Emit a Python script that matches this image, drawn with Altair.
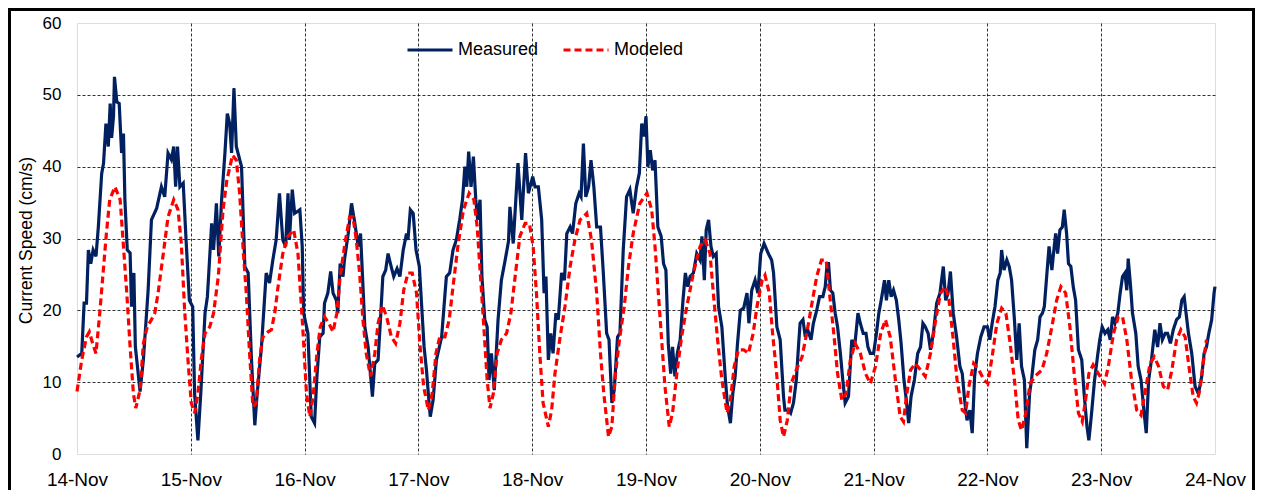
import altair as alt
import pandas as pd

# ---- data (hours after 14-Nov 00:00, current speed in cm/s) ----
day_labels = ["14-Nov", "15-Nov", "16-Nov", "17-Nov", "18-Nov", "19-Nov",
              "20-Nov", "21-Nov", "22-Nov", "23-Nov", "24-Nov"]

measured_hours = [
    0, 1, 1.5, 2.0, 2.4, 2.9, 3.4, 4.0, 4.5, 5.2, 5.6, 6.1, 6.6, 7.0, 7.3, 7.7, 7.9, 8.4, 8.9, 9.4,
    9.8, 10.1, 10.6, 11.2, 11.5, 12.0, 12.3, 13.3, 14.0, 15.0, 15.7, 16.8, 17.8, 18.5, 19.2, 19.9,
    20.4, 20.8, 21.2, 21.7, 22.4, 23.0, 23.7, 24.4, 24.8, 25.5, 26.1, 27.0, 27.5, 28.4, 28.8, 29.4,
    29.9, 30.5, 31.2, 31.7, 32.2, 32.6, 33.1, 33.6, 34.7, 35.4, 36.1, 36.8, 37.5, 38.0, 38.9, 39.9,
    40.6, 41.3, 42.0, 42.7, 43.4, 44.0, 44.5, 44.8, 45.4, 45.9, 47.0, 47.5, 47.8, 48.7, 49.4, 50.1,
    50.6, 51.2, 51.9, 52.2, 52.9, 53.5, 54.0, 54.7, 55.0, 55.5, 56.1, 56.4, 57.2, 57.9, 58.6, 59.3,
    59.8, 60.7, 61.4, 62.3, 62.8, 63.5, 64.0, 64.5, 65.1, 65.6, 66.1, 66.8, 67.5, 68.1, 68.8, 69.5,
    69.8, 70.3, 70.9, 71.5, 72.2, 72.7, 73.2, 73.7, 74.2, 74.5, 75.1, 75.8, 76.9, 77.9, 78.6, 79.3,
    80.0, 80.7, 81.3, 81.8, 82.2, 82.6, 83.1, 83.6, 84.1, 84.5, 85.0, 85.4, 86.0, 86.5, 86.9, 87.4,
    88.0, 88.8, 89.5, 90.3, 91.0, 91.3, 92.0, 93.0, 93.8, 94.6, 95.2, 96.1, 96.6, 97.3, 98.0, 98.5,
    98.9, 99.4, 99.9, 100.4, 101.0, 101.5, 102.2, 102.8, 103.3, 104.0, 104.5, 105.2, 105.9, 106.3,
    106.8, 107.3, 107.9, 108.4, 109.0, 109.6, 110.4, 111.0, 111.7, 112.2, 112.8, 113.3, 114.0,
    114.5, 115.2, 115.9, 116.6, 117.3, 118.0, 118.6, 119.1, 119.6, 120.0, 120.4, 120.9, 121.4,
    121.9, 122.5, 123.2, 123.7, 124.2, 124.7, 125.2, 125.6, 126.1, 126.6, 127.2, 127.8, 128.3,
    128.8, 129.3, 130.0, 130.7, 131.4, 131.8, 132.3, 132.7, 133.2, 133.7, 134.2, 134.8, 135.3,
    136.0, 136.7, 137.2, 137.8, 138.3, 138.8, 139.3, 139.9, 140.6, 141.3, 141.7, 142.3, 143.0,
    143.6, 144.2, 144.9, 145.8, 146.5, 146.9, 147.6, 148.3, 149.0, 149.3, 150.0, 150.5, 151.1,
    151.7, 152.2, 152.5, 153.1, 153.6, 154.1, 154.8, 155.3, 156.0, 156.6, 157.3, 157.8, 158.2,
    158.5, 158.9, 159.4, 159.9, 160.4, 161.0, 161.5, 162.0, 162.7, 163.4, 164.0, 164.7, 165.2,
    165.8, 166.4, 166.8, 167.3, 168.0, 168.6, 169.1, 169.6, 170.3, 170.7, 171.2, 171.7, 172.2,
    172.8, 173.3, 173.8, 174.4, 174.9, 175.4, 175.9, 176.6, 177.3, 177.9, 178.4, 178.9, 179.5,
    180.0, 180.6, 181.3, 182.0, 182.7, 183.2, 183.7, 184.2, 184.8, 185.5, 186.2, 186.7, 187.2,
    187.7, 188.3, 188.8, 189.3, 189.9, 190.6, 191.3, 192.0, 192.5, 193.0, 193.6, 194.2, 194.7,
    195.0, 195.5, 196.1, 196.6, 197.1, 197.7, 198.2, 198.7, 199.2, 199.8, 200.3, 200.9, 201.3,
    202.0, 202.6, 203.1, 203.6, 204.0, 204.5, 205.0, 205.6, 206.1, 206.4, 206.8, 207.3, 207.8,
    208.2, 208.7, 209.1, 209.6, 210.1, 210.6, 211.2, 211.9, 212.4, 213.0, 213.4, 213.9, 214.6,
    215.3, 215.7, 216.2, 216.8, 217.4, 217.9, 218.4, 218.9, 219.5, 220.0, 220.5, 221.0, 221.4,
    221.7, 222.2, 222.6, 223.3, 223.8, 224.4, 225.0, 225.5, 226.0, 226.6, 227.3, 227.9, 228.4,
    228.9, 229.5, 230.0, 230.6, 231.2, 231.9, 232.5, 233.0, 233.5, 233.9, 234.4, 235.1, 235.8,
    236.5, 237.2, 237.7, 238.2, 238.7, 239.3, 239.8, 240.0,
]
measured_values = [
    13.5, 14, 21, 21, 28.4, 26.5, 28.4, 27.5, 31.6, 39, 40.5, 46, 42.8, 48.8, 44, 47, 52.5, 49, 48.8, 41.9,
    44.6, 35.4, 28.4, 28, 20.5, 25.2, 15, 8.7, 13.1, 22.8, 32.6, 34.2, 37.2, 35.8, 41.9, 41,
    42.8, 37.2, 42.8, 37.2, 37.7, 29.8, 21.4, 20.5, 8.4, 1.9, 8.4, 19.6, 21.9, 32.1, 28.4, 34.9,
    27.5, 35.4, 41.9, 47.4, 46, 41.9, 50.9, 42.8, 40, 26.1, 25.2, 13.1, 4, 8.4, 14.9, 25.2,
    23.8, 27, 29.8, 36.3, 29.8, 28.9, 36.3, 29.8, 36.8, 33.5, 34, 28.9, 19.6, 16.8, 5.2, 4.3,
    10.8, 16.3, 16.8, 21, 22.4, 25.4, 22.4, 21.4, 19.6, 26.5, 24.7, 27, 30.7, 34.9, 32.1, 28.9,
    30.7, 17.7, 14.9, 8, 12.6, 13.1, 18.7, 24.7, 25.6, 27.9, 26.5, 24.7, 25.8, 24.7, 28.4, 30.7,
    29.8, 34, 33.5, 28.4, 26.1, 20.5, 14.9, 11.7, 7.5, 5.2, 7.5, 13.1, 16.3, 24.7, 25.2, 28.4,
    29.8, 32.6, 35.4, 40, 37.2, 42.1, 37.2, 41.4, 35.4, 32.6, 35.4, 24.7, 18.7, 17.7, 10.3, 14,
    8.9, 18.7, 24.2, 27, 29.6, 34.4, 29.3, 40.5, 32.6, 41.9, 36.3, 38.6, 37.2, 37.2, 32.6, 22.4,
    24.7, 13.1, 16.8, 14, 19.6, 18.7, 25.2, 24.2, 30.7, 31.6, 30.7, 34.9, 36.3, 35.8,
    43.2, 35.8, 37.2, 40.9, 37.2, 31.6, 31.6, 25.2, 16.8, 15.9, 7.1, 8.9, 16.3,
    16.8, 28.4, 35.8, 36.8, 33.5, 37.2, 39.1, 46, 44.2, 47, 40, 42.3, 39.5,
    40.9, 31.6, 30.3, 26.5, 25.6, 15.4, 11.2, 14.9, 10.8, 14, 15.9, 21.4, 25.2,
    23.3, 24.7, 25.2, 27.9, 27, 30.3, 24.2, 31.2, 32.6, 28.9, 27.5, 27.9, 20.5,
    17.7, 10.8, 6.6, 4.3, 8.4, 10.8, 15.4, 20, 20.3, 22.4, 18.2, 22.8, 24.2,
    22.4, 27.9, 29.3, 27.9, 27, 25.2, 17.7, 15.9, 8, 6.1, 6.1, 5.7, 7.1,
    10.3, 15.4, 18.2, 18.7, 16.3, 17.3, 15.9, 18.2, 20, 21.9, 21.9, 23.3, 26.5,
    26.5, 22.8, 22.4, 19.6, 17.7, 14, 10.3, 7.1, 8, 15.9, 14.9, 19.6, 18.2,
    16.8, 16.8, 14.9, 14, 14, 16.8, 19.6, 21.4, 24.2, 21.4, 24.2, 21.9, 22.8,
    21.4, 18.7, 15.4, 10.3, 7.5, 4.3, 8, 10.3, 14, 14.9, 18.2, 17.7, 16.8,
    14.5, 16.8, 21, 22.4, 26.1, 21.4, 22.4, 25.4, 19.6, 16.3, 12.2, 11.2, 7.5,
    4.7, 6.1, 2.9, 10.8, 14, 16.3, 17.7, 17.7, 15.9, 18.2, 20.5, 24.2, 25.2,
    28.4, 25.6, 27, 26.1, 24.2, 18.7, 13.1, 18.2, 12.2, 10.3, 0.8, 8.4, 10.3,
    14.5, 15.9, 19.1, 19.6, 20.5, 24.7, 28.9, 25.6, 28.9, 30.7, 27.9, 31.2, 31.6,
    34, 30.7, 26.5, 26.1, 23.3, 21.4, 14.5, 13.1, 8.4, 3.8, 1.9, 5.2, 10.3,
    14, 15.9, 17.7, 16.8, 17.3, 15.9, 19.1, 18.2, 19.6, 22.4, 24.7, 25.2, 22.8,
    27.2, 23.3, 19.6, 16.8, 12.2, 10.3, 6.1, 2.9, 10.3, 13.1, 17.3, 14.9, 18.2,
    15.9, 16.8, 16.8, 15.4, 17.3, 18.7, 19.1, 21.4, 21.9, 19.6, 16.8, 14, 9.4,
    8.4, 10.8, 14, 14.9, 16.8, 18.7, 22.4, 23.3,
]

modeled_hours = [
    0, 1, 2, 2.6, 3.3, 4, 4.8, 5.5, 6.2, 6.9, 8, 9.1, 9.8, 10.5, 11.2, 11.9, 12.4, 13.3, 14, 14.8,
    15.7, 16.4, 17.1, 18.2, 19.2, 20.4, 21.3, 22, 22.7, 23.4, 24.1, 24.8, 25.5, 26.2, 27, 28, 28.8,
    29.8, 30.8, 31.6, 32.8, 33.6, 34.3, 35, 35.7, 36.4, 37.1, 37.8, 38.5, 39.2, 40.3, 41, 41.7,
    42.4, 43.4, 44.5, 45.7, 46.6, 47.6, 48.4, 49.1, 49.8, 50.6, 51.3, 52.2, 53.1, 54, 54.8, 55.5,
    56.5, 57.5, 58.2, 58.9, 59.6, 60.3, 61, 61.9, 62.8, 63.5, 64.4, 65.3, 66.3, 67.2, 68.1, 68.9,
    69.8, 70.7, 71.6, 72.3, 73.1, 74.1, 74.9, 75.7, 76.5, 77.6, 78.5, 79.3, 80.4, 81.5, 82.7, 83.7,
    84.4, 85.1, 85.8, 86.5, 87.1, 87.8, 88.6, 89.5, 90.6, 91.5, 92.4, 93.4, 94.5, 95.4, 96.2, 96.9,
    97.6, 98.3, 99.4, 100.1, 100.8, 101.8, 102.9, 104, 105, 106.1, 107.5, 108.5, 109.6, 110.4,
    111.1, 112.1, 112.8, 113.5, 114.4, 115.4, 116.3, 117.3, 118.7, 120.2, 121.2, 121.9, 122.6,
    123.3, 124, 124.9, 125.6, 126.5, 127.5, 128.6, 130, 131.4, 132.5, 133.5, 134.2, 135.1, 136,
    137.1, 137.8, 138.6, 139.5, 140.6, 141.6, 142.6, 143.4, 144.5, 145.1, 146, 146.7, 147.6,
    148.3, 149, 149.8, 150.6, 151.7, 152.9, 153.9, 155, 156, 157, 158, 158.7, 159.6, 160.4,
    161.3, 162.2, 163.1, 164.1, 165.2, 166.3, 167.3, 168.4, 169.5, 170.5, 171.5, 172.6, 173.6,
    174.3, 175, 175.8, 176.8, 177.9, 178.9, 180, 181.1, 182.1, 183.2, 183.9, 184.8, 185.6,
    186.7, 187.4, 188.1, 189.1, 190.2, 191.3, 192.1, 193.1, 194, 195, 195.9, 196.8, 197.7,
    198.5, 199.2, 200.1, 201, 202, 203.5, 204.5, 205.6, 206.6, 207.5, 208.5, 209.4, 210.3,
    211.2, 212, 212.7, 213.4, 214.3, 215.4, 216.7, 217.5, 218.6, 219.6, 220.5, 221.4, 222.4,
    223.5, 224.4, 225.2, 226.3, 227.2, 228.1, 229.1, 230, 230.9, 231.9, 232.8, 233.7, 234.5,
    235.4, 236.1, 236.8, 237.5, 238.2,
]
modeled_values = [
    8.7, 13.1, 16.3, 17, 15.4, 14, 19.6, 25.2, 30.7, 35.4, 37.2, 35.4, 28.9, 22.4, 14.9, 8.4, 6.4, 8.9, 15.4, 17.7,
    18.7, 19.6, 22.4, 27.9, 33, 35.4, 34, 29.3, 20, 13.1, 7.1, 5.7, 8.4, 13.1, 16.8, 17.7, 19.6,
    24.7, 34, 38.1, 41.6, 40.9, 36.3, 28.9, 22.4, 14, 6.6, 7.1, 13.1, 16.3, 17, 17.3, 19.6,
    23.3, 27.9, 30.3, 31.2, 27.9, 17.7, 8.4, 5.2, 8, 14, 17.7, 19.1, 18.2, 17, 19.6, 24.7,
    29.3, 33, 33, 29.8, 25.2, 18.7, 14, 10.8, 14, 18.2, 20.7, 19.1, 16.3, 15.4, 18.2, 22.8,
    25.2, 25.2, 22.4, 15.4, 9.4, 6.1, 8.4, 14, 16.3, 16.3, 18.7, 23.3, 29.3, 34, 36.3, 35.4,
    31.6, 24.7, 17.7, 10.3, 6.4, 8.4, 14, 15.9, 16.8, 19.6, 24.7, 30.3, 32.1, 32.1, 28.9, 22.4,
    14, 7.1, 3.8, 6.1, 11.2, 15.9, 20.5, 26.1, 29.8, 32.6, 33.5, 29.8, 22.4, 14,
    8.4, 2.4, 3.8, 10.8, 15.9, 20.5, 26.1, 30.7, 34.9, 36.3, 34, 28.9, 22.4,
    15.9, 9.4, 3.8, 5.7, 11.2, 16.3, 20.5, 25.2, 28.9, 29.8, 27.9, 22.4, 15.9, 10.3,
    5.7, 7.5, 12.2, 14.5, 14.5, 14, 16.8, 20.5, 24.2, 24.9, 22.4, 16.8, 10.8,
    4.7, 2.4, 4.7, 9.8, 11.7, 13.5, 16.8, 21, 24.7, 27, 27, 22.4, 16.8, 11.2,
    7.5, 8.4, 13.1, 15.4, 14, 11.2, 9.8, 12.2, 16.8, 18.7, 16.3, 10.3, 5.2,
    4.5, 8.4, 11.7, 12.6, 11.7, 10.8, 14, 18.7, 22.4, 23.3, 21.4, 15.9, 10.3,
    6.1, 5.7, 9.4, 12.6, 11.7, 10.3, 9.8, 14, 18.2, 20.3, 19.6, 15.4, 10.3,
    4.7, 3.3, 5.7, 9.8, 10.8, 11.7, 14, 17.7, 21.4, 23.3, 22.4, 17.7, 11.2,
    5.7, 4.5, 7.5, 11.2, 12.4, 11.2, 9.8, 12.2, 16.8, 19.1, 19.1, 15.9, 10.3,
    6.1, 5.4, 8.4, 12.6, 13.5, 12.2, 9.4, 8.9, 11.7, 15.9, 17.3, 16.3, 12.2,
    8, 7.1, 8.9, 12.6, 15.9,
]

series_names = ["Measured", "Modeled"]
series_colors = ["#002060", "#FF0000"]

df = pd.concat([
    pd.DataFrame({"series": series_names[0], "hour": measured_hours, "speed": measured_values}),
    pd.DataFrame({"series": series_names[1], "hour": modeled_hours, "speed": modeled_values}),
], ignore_index=True)

label_list = "[" + ",".join("'" + s + "'" for s in day_labels) + "]"
x_ticks = [24 * i for i in range(len(day_labels))]

FONT = "Liberation Sans"


def make_legend():
    return alt.Legend(title=None, orient="none", legendX=329, legendY=3,
                      direction="horizontal", symbolType="stroke", symbolSize=2025,
                      symbolStrokeWidth=3, labelFontSize=18, labelFont=FONT,
                      labelColor="black", columnPadding=18, labelOffset=4, padding=0)


lines = alt.Chart(df).mark_line(strokeWidth=3.2, interpolate="linear").encode(
    x=alt.X("hour:Q",
            scale=alt.Scale(domain=[0, 240], nice=False, zero=False),
            axis=alt.Axis(values=x_ticks, labelExpr=label_list + "[round(datum.value/24)]",
                          title=None, grid=True, ticks=False, domain=False,
                          labelFontSize=19, labelPadding=16, labelFont=FONT, labelColor="black",
                          gridColor="black", gridDash=[3, 2], gridWidth=1,
                          gridOpacity={"condition": {"test": "datum.value == 0 || datum.value == 240", "value": 0}, "value": 0.8},
                          labelFlush=False)),
    y=alt.Y("speed:Q",
            scale=alt.Scale(domain=[0, 60], nice=False),
            axis=alt.Axis(values=[0, 10, 20, 30, 40, 50, 60], title="Current Speed (cm/s)",
                          grid=True, ticks=False, domain=False,
                          labelFontSize=17, labelPadding=16, labelFont=FONT, labelColor="black",
                          titleFont=FONT, titleFontSize=17.5, titleFontWeight="normal", titleColor="black",
                          titleX=-51, titleY=217, titleAngle=-90, titleBaseline="middle", titleAlign="center",
                          gridColor="black", gridDash=[3, 2], gridWidth=1,
                          gridOpacity={"condition": {"test": "datum.value == 0 || datum.value == 60", "value": 0}, "value": 0.8},
                          labelFlush=False)),
    color=alt.Color("series:N", scale=alt.Scale(domain=series_names, range=series_colors),
                    legend=make_legend()),
    strokeDash=alt.StrokeDash("series:N", scale=alt.Scale(domain=series_names, range=[[1, 0], [7, 4]]),
                              legend=make_legend()),
)

frame = alt.Chart(pd.DataFrame({"a": [0]})).mark_rect(filled=False, stroke="black", strokeWidth=3).encode(
    x=alt.value(-67.5), x2=alt.value(1176.5), y=alt.value(-13.5), y2=alt.value(480)
)

chart = alt.layer(lines, frame).properties(
    width=1138, height=431,
    autosize=alt.AutoSizeParams(type="none"),
    padding={"left": 69, "top": 15, "right": 40, "bottom": 36},
).configure_view(
    stroke="#666666", strokeWidth=1.5
).configure(background="white")

chart.save("out.html", embed_options={"renderer": "svg", "actions": False})
